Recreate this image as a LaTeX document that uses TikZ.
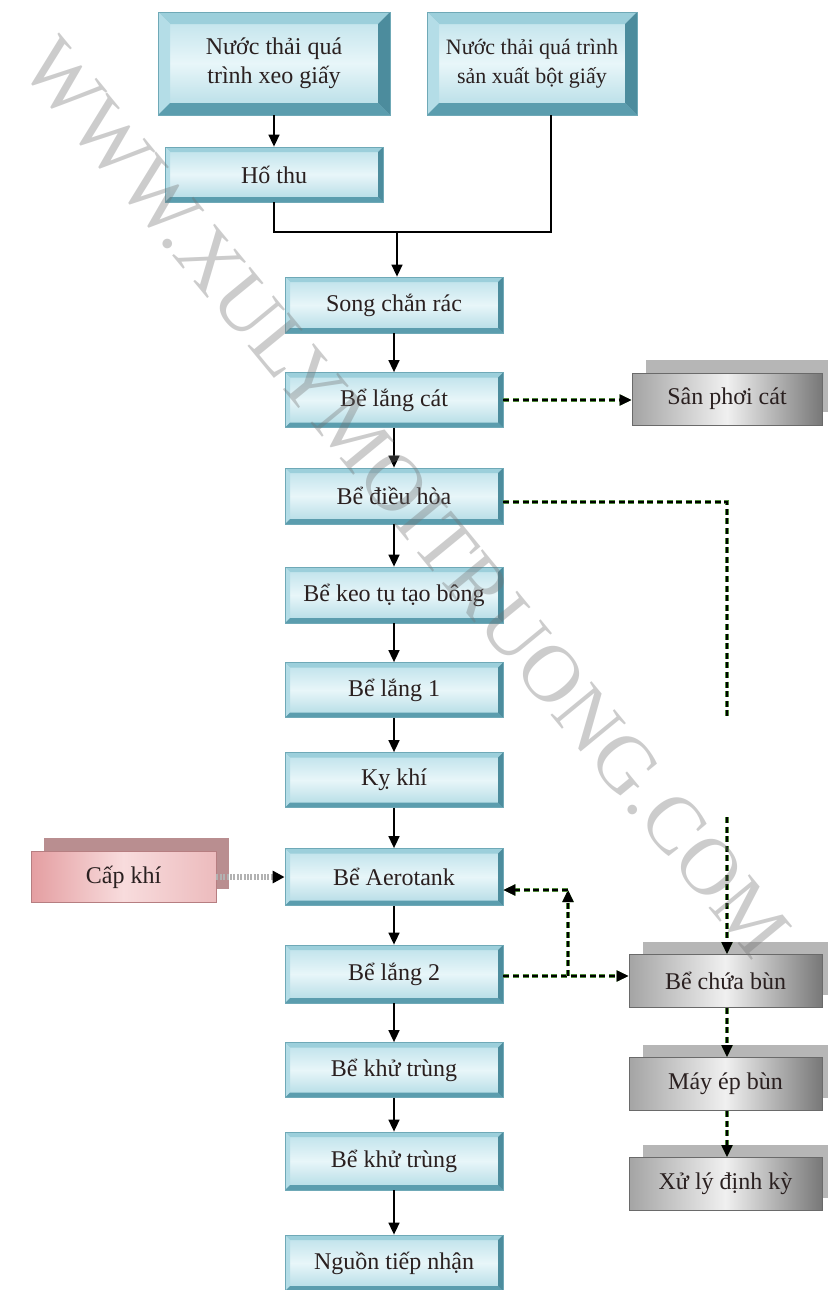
\documentclass[tikz,border=0pt]{standalone}
\usepackage{fontspec}
\setmainfont{Liberation Serif}
\usetikzlibrary{arrows.meta,shadows}
\definecolor{txt}{HTML}{2A2020}
\definecolor{bInTop}{HTML}{BCE1EA}
\definecolor{bInMid}{HTML}{E8F6F9}
\definecolor{bInBot}{HTML}{B0DAE4}
\definecolor{bTopE}{HTML}{9CCFDB}
\definecolor{bLeftE}{HTML}{B4DDE7}
\definecolor{bBotE}{HTML}{5B9DAE}
\definecolor{bRightE}{HTML}{4C8C9D}
\definecolor{bEdge}{HTML}{6FA9B7}
\definecolor{gL}{HTML}{A4A4A4}
\definecolor{gM}{HTML}{F0F0F0}
\definecolor{gR}{HTML}{787878}
\definecolor{gShadow}{HTML}{B6B6B6}
\definecolor{gEdge}{HTML}{6A6A6A}
\definecolor{pL}{HTML}{E49EA1}
\definecolor{pM}{HTML}{F8DCDD}
\definecolor{pShadow}{HTML}{B98E90}
\definecolor{dgreen}{HTML}{4F8A3A}
\tikzset{
  bev/.code={\def\bevw{#1}},
  bev=2.5pt,
  lbl/.style={align=center, inner sep=0pt, text=txt, font=\fontsize{12}{14.5}\selectfont},
  bluebox/.style={lbl, rectangle, minimum width=109pt, minimum height=28pt,
    top color=bInTop, bottom color=bInBot, middle color=bInMid,
    draw=bEdge, line width=0.4pt,
    path picture={
      \path (path picture bounding box.north west) coordinate (pNW)
            (path picture bounding box.north east) coordinate (pNE)
            (path picture bounding box.south west) coordinate (pSW)
            (path picture bounding box.south east) coordinate (pSE);
      \fill[bTopE] (pNW) -- (pNE) -- ([shift={(-\bevw,-\bevw)}]pNE) -- ([shift={(\bevw,-\bevw)}]pNW) -- cycle;
      \fill[bLeftE] (pNW) -- ([shift={(\bevw,-\bevw)}]pNW) -- ([shift={(\bevw,\bevw)}]pSW) -- (pSW) -- cycle;
      \fill[bBotE] (pSW) -- (pSE) -- ([shift={(-\bevw,\bevw)}]pSE) -- ([shift={(\bevw,\bevw)}]pSW) -- cycle;
      \fill[bRightE] (pNE) -- (pSE) -- ([shift={(-\bevw,\bevw)}]pSE) -- ([shift={(-\bevw,-\bevw)}]pNE) -- cycle;
    }},
  graybox/.style={lbl, rectangle, minimum width=96.5pt, minimum height=26.5pt,
    left color=gL, right color=gR, middle color=gM, draw=gEdge, line width=0.5pt,
    general shadow={fill=gShadow, shadow xshift=7pt, shadow yshift=6.5pt}},
  pinkbox/.style={lbl, rectangle, minimum width=92.5pt, minimum height=25.5pt,
    left color=pL, right color=pL!70!white, middle color=pM, draw=pL!80!black, line width=0.3pt,
    general shadow={fill=pShadow, shadow xshift=6.5pt, shadow yshift=7pt}},
  arr/.style={draw=black, line width=0.8pt, -{Triangle[length=6pt,width=5.5pt]}},
  ln/.style={draw=black, line width=0.8pt},
  dsh/.style={draw=black, line width=0.8pt, dash pattern=on 3pt off 1.8pt,
    preaction={draw=dgreen, line width=2.4pt, dash pattern=on 3pt off 1.8pt}},
  dtip/.style={-{Triangle[length=6pt,width=5.5pt]}},
  airline/.style={draw=gray!60, line width=3pt, dash pattern=on 1pt off 0.7pt,
    -{Triangle[length=6pt,width=6pt,color=black]}},
}
\begin{document}
\begin{tikzpicture}[x=0.5pt,y=-0.5pt]
\useasboundingbox (0,0) rectangle (828,1290);
% top sources
\node[bluebox, bev=6pt, minimum width=116pt, minimum height=51.5pt] (nt1) at (274,63.5) {Nước thải quá\\trình xeo giấy};
\node[bluebox, bev=6pt, minimum width=105pt, minimum height=51.5pt, font=\fontsize{11}{14.5}\selectfont] (nt2) at (532,63.5) {Nước thải quá trình\\sản xuất bột giấy};
\node[bluebox, minimum width=109pt, minimum height=27.5pt] (hothu) at (274,174.5) {Hố thu};
% main column
\node[bluebox] (song) at (394,305) {Song chắn rác};
\node[bluebox, minimum height=27.5pt] (langcat) at (394,400) {Bể lắng cát};
\node[bluebox] (dieuhoa) at (394,496) {Bể điều hòa};
\node[bluebox] (keotu) at (394,595) {Bể keo tụ tạo bông};
\node[bluebox, minimum height=27.5pt] (lang1) at (394,690) {Bể lắng 1};
\node[bluebox, minimum height=27.5pt] (kykhi) at (394,780) {Kỵ khí};
\node[bluebox, minimum height=28.5pt] (aero) at (394,877) {Bể Aerotank};
\node[bluebox, minimum height=29pt] (lang2) at (394,974) {Bể lắng 2};
\node[bluebox, minimum height=27.5pt] (khu1) at (394,1070) {Bể khử trùng};
\node[bluebox, minimum height=29pt] (khu2) at (394,1161) {Bể khử trùng};
\node[bluebox] (nguon) at (394,1263) {Nguồn tiếp nhận};
% side boxes
\node[graybox, minimum width=95pt, minimum height=26pt] (sanphoi) at (727,399) {Sân phơi cát};
\node[graybox] (chuabun) at (725.5,981) {Bể chứa bùn};
\node[graybox] (mayep) at (725.5,1084) {Máy ép bùn};
\node[graybox] (xuly) at (725.5,1184) {Xử lý định kỳ};
\node[pinkbox] (capkhi) at (123.5,877) {Cấp khí};
% source connectors
\draw[arr] (nt1.south -| hothu.north) -- (hothu.north);
\coordinate (m) at (397,232);
\draw[ln] (hothu.south) |- (m);
\draw[ln] ([xshift=9.5pt]nt2.south) |- (m);
\draw[arr] (m) -- (m |- song.north);
% main column arrows
\draw[arr] (song.south) -- (langcat.north);
\draw[arr] (langcat.south) -- (dieuhoa.north);
\draw[arr] (dieuhoa.south) -- (keotu.north);
\draw[arr] (keotu.south) -- (lang1.north);
\draw[arr] (lang1.south) -- (kykhi.north);
\draw[arr] (kykhi.south) -- (aero.north);
\draw[arr] (aero.south) -- (lang2.north);
\draw[arr] (lang2.south) -- (khu1.north);
\draw[arr] (khu1.south) -- (khu2.north);
\draw[arr] (khu2.south) -- (nguon.north);
% dashed connectors
\draw[dsh, dtip] (langcat.east) -- (langcat.east -| sanphoi.west);
\coordinate (r1) at (727,502);
\coordinate (r2) at (727,717);
\coordinate (r3) at (727,817);
\draw[dsh] (dieuhoa.east |- r1) -- (r1) -- (r2);
\draw[dsh, dtip] (r3) -- (chuabun.north -| r3);
\coordinate (s1) at (568,976);
\coordinate (s2) at (568,890);
\draw[dsh, dtip] (lang2.east |- s1) -- (s1 -| chuabun.west);
\draw[dsh, dtip] (s1) -- (s2);
\draw[dsh, dtip] (s2) -- (s2 -| aero.east);
\draw[dsh, dtip] (chuabun.south -| r3) -- (mayep.north -| r3);
\draw[dsh, dtip] (mayep.south -| r3) -- (xuly.north -| r3);
\draw[airline] (capkhi.east) -- (capkhi.east -| aero.west);
% watermark
\node[rotate=-50.6, text=black!55, opacity=0.36, inner sep=0pt, font=\fontsize{40.5}{41}\selectfont] (wm) at (406,498) {WWW.XULYMOITRUONG.COM};
\end{tikzpicture}
\end{document}
